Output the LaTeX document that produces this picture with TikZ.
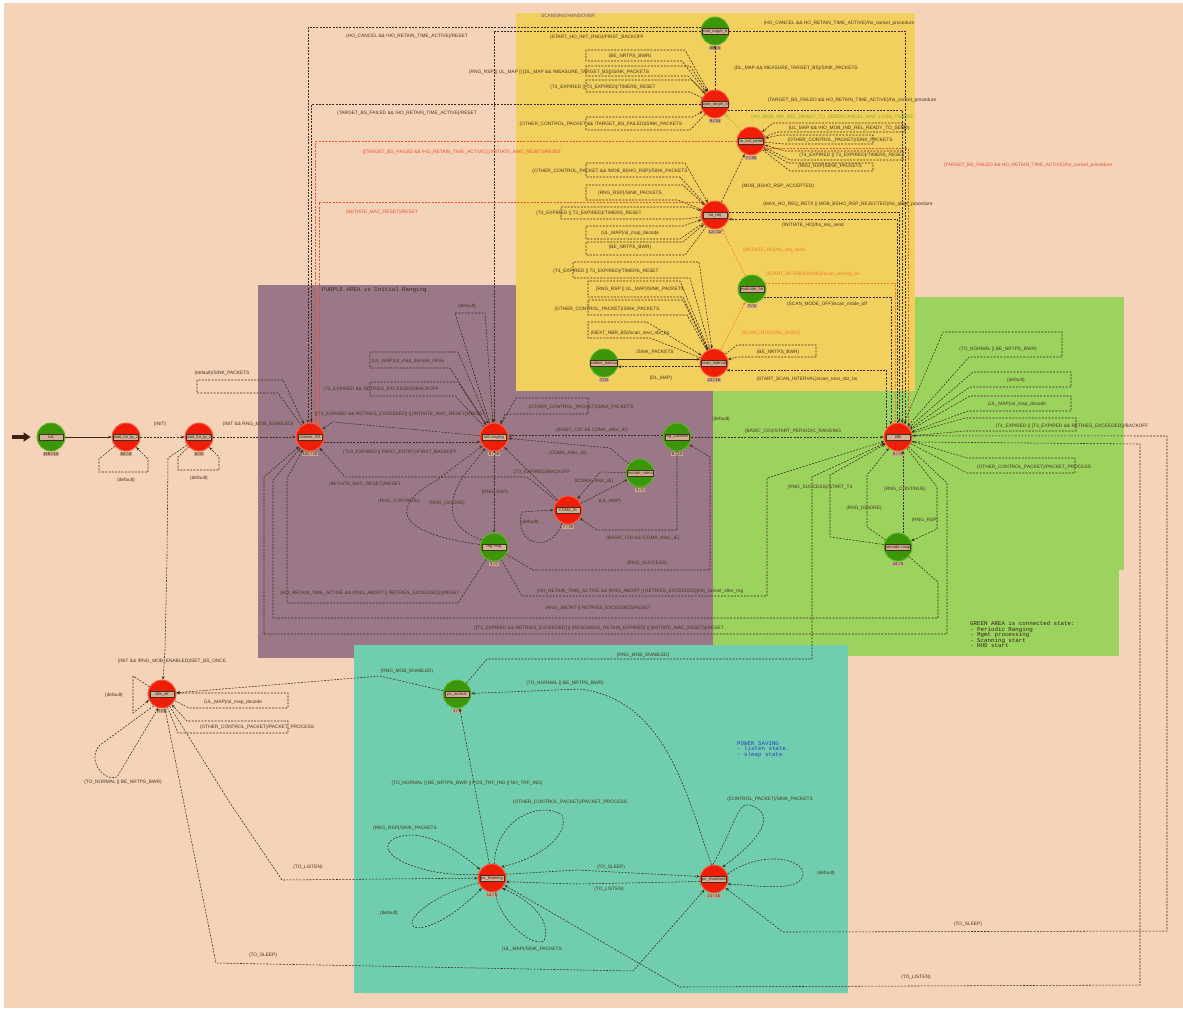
\documentclass[tikz,border=0pt]{standalone}
\usepackage{fontspec}
\setmainfont{Liberation Sans}
\newfontfamily\monof{Liberation Mono}
\usetikzlibrary{arrows.meta}
\definecolor{bgp}{RGB}{244,211,184}
\definecolor{yelc}{RGB}{242,208,94}
\definecolor{purc}{RGB}{155,120,136}
\definecolor{grnar}{RGB}{156,211,94}
\definecolor{tealc}{RGB}{112,206,174}
\definecolor{stred}{RGB}{240,30,8}
\definecolor{stredl}{RGB}{255,95,60}
\definecolor{stgrn}{RGB}{60,150,10}
\definecolor{stgrnl}{RGB}{95,185,35}
\definecolor{boxc}{RGB}{208,176,150}
\definecolor{boxd}{RGB}{70,45,30}
\definecolor{cntc}{RGB}{202,166,140}
\definecolor{edgec}{RGB}{62,42,28}
\definecolor{txtc}{RGB}{75,52,35}
\definecolor{redc}{RGB}{238,78,48}
\definecolor{orgc}{RGB}{245,118,40}
\definecolor{grnc}{RGB}{150,200,40}
\definecolor{arrc}{RGB}{62,30,12}
\definecolor{bluec}{RGB}{50,60,200}
\definecolor{scanc}{RGB}{100,70,160}
\newcommand\lblf{\fontsize{4.8}{5}\selectfont}
\newcommand\stf{\fontsize{4.1}{4.5}\selectfont}
\newcommand\mkst[6]{%
  \node[#4] (#1) at (#2,#3) {};
  \node[sbox] (#1-l) at (#1.center) {#5};
  \node[cbox] (#1-c) at ([yshift=-17pt]#1.center) {#6};
}
\newcommand\lb[4][]{\node[lab,#1] (#2) at (#3) {#4};}
\begin{document}
\begin{tikzpicture}[x=1pt,y=-1pt,
  stbase/.style={circle, minimum size=28pt, inner sep=0pt, line width=0.9pt},
  rst/.style={stbase, fill=stred, draw=stredl},
  gst/.style={stbase, fill=stgrn, draw=stgrnl},
  sbox/.style={rectangle, minimum width=24pt, minimum height=6.5pt, inner sep=0.3pt, fill=boxc, draw=boxd, line width=0.35pt, font=\stf, text=txtc!70!black},
  cbox/.style={rectangle, inner sep=0.8pt, fill=cntc, font=\stf, text=txtc!70!black},
  lab/.style={font=\lblf, text=txtc, inner sep=0pt},
  redt/.style={text=redc},
  orgt/.style={text=orgc},
  grnt/.style={text=grnc!85!black},
  tr/.style={draw=edgec, line width=0.55pt, dash pattern=on 2pt off 1.3pt, -{Stealth[length=3.4pt,width=2.8pt]}},
  rtr/.style={tr, draw=redc},
  otr/.style={tr, draw=orgc},
  gtr/.style={tr, draw=grnc},
  sltr/.style={tr, solid}
]
\useasboundingbox (0,0) rectangle (1183,1010);
\fill[white] (0,0) rectangle (1183,1010);
\fill[bgp] (4,3) rectangle (1183,1008);
\fill[purc] (258,285) rectangle (713,658);
\fill[grnar] (713,297) rectangle (1124,570);
\fill[grnar] (713,570) rectangle (1119,656);
\fill[tealc] (354,645) rectangle (848,993);
\fill[yelc] (516,13) rectangle (915,391);

\node[font=\lblf, text=scanc, inner sep=0pt] (scantitle) at (568,16) {SCANNING/HANDOVER};
\node[font=\monof\fontsize{5.8}{5.6}\selectfont, text=edgec, anchor=north west, inner sep=0pt] (purtitle) at (322,287) {PURPLE AREA is Initial Ranging};
\node[font=\monof\fontsize{5.8}{5.6}\selectfont, text=edgec!80!black, anchor=north west, align=left, inner sep=0pt] (grntitle) at (970,621) {GREEN AREA is connected state:\\- Periodic Ranging\\- Mgmt processing\\- Scanning start\\- HHO start};
\node[font=\monof\fontsize{5.8}{5.6}\selectfont, text=bluec, anchor=north west, align=left, inner sep=0pt] (pstitle) at (737,741) {POWER SAVING\\- listen state.\\- sleep state.};

% states
\mkst{init}{51}{437}{gst}{init}{118 / 13}
\mkst{w1}{126}{437}{rst}{wait\_for\_ip\_1}{52 / 0}
\mkst{w2}{199}{437}{rst}{wait\_for\_ip\_2}{5 / 0}
\mkst{cbs}{310}{437}{rst}{choose\_BS}{102 / 10}
\mkst{ir}{494}{437}{rst}{init ranging}{9 / 39}
\mkst{rs}{677}{437}{gst}{rng\_success}{8 / 19}
\mkst{dc}{640}{473}{gst}{decode\_cdma}{3 / 0}
\mkst{ci}{568}{510}{rst}{CDMA\_IE}{7 / 35}
\mkst{rm}{494}{547}{gst}{rng msg}{3 / 0}
\mkst{idle}{898}{437}{rst}{idle}{9 / 72}
\mkst{pr}{898}{547}{gst}{periodic rangi}{24 / 0}
\mkst{ia}{162}{694}{rst}{idle\_alt}{7 / 8}
\mkst{psn}{457}{694}{gst}{ps\_normal}{1 / 3}
\mkst{psl}{492}{878}{rst}{ps\_listening}{14 / 8}
\mkst{pss}{714}{879}{rst}{ps\_shutdown}{21 / 16}
\mkst{etb}{715}{31}{gst}{eval\_target\_b}{55 / 0}
\mkst{stb}{715}{104}{rst}{scan\_target\_b}{9 / 14}
\mkst{hip}{751}{141}{rst}{ho\_ind\_pendi}{7 / 20}
\mkst{hr}{715}{215}{rst}{ho\_req}{12 / 22}
\mkst{eho}{752}{289}{gst}{evaluate\_ho}{7 / 0}
\mkst{si}{714}{363}{rst}{scan\_interval}{12 / 16}
\mkst{cm}{604}{363}{gst}{collect\_measu}{7 / 0}

% start arrow
\coordinate (start) at (12,437);
\draw[line width=3.5pt, draw=arrc, -{Triangle[length=7pt,width=9pt]}, shorten >=6pt] (start) -- (init);

% left chain
\draw[sltr] (init) -- (w1);
\draw[tr] (w1) -- (99,459) -- (99,472) -- (148,472) -- (148,459) -- (w1);
\draw[tr] (w1) -- (w2);
\draw[tr] (w2) -- (178,457) -- (178,470) -- (219,470) -- (219,457) -- (w2);
\draw[tr] (w2) -- (cbs);
\draw[tr] (w2) -- (168,458) -- (167,557) -- (165,650) -- (ia);
\draw[tr] (cbs) -- (278,393) -- (197,393) -- (197,380) -- (283,380) -- (cbs);

% into choose_BS from the top
\draw[tr] (etb.165) -| (cbs.98);
\draw[tr] (stb.183) -| (cbs.85);
\draw[rtr] (hip.183) -| (cbs.68);
\draw[rtr] (hr.121) -| (cbs.52);
\draw[tr] (etb.180) -| (ir.90);

% scanning / handover
\draw[tr] (stb) -- (etb);
\draw[tr] (stb) -- (682,61) -- (586,61) -- (586,50) -- (685,50) -- (stb);
\draw[tr] (stb) -- (688,76) -- (586,76) -- (586,66) -- (690,66) -- (stb);
\draw[tr] (stb) -- (690,92) -- (586,92) -- (586,80) -- (692,80) -- (stb);
\draw[tr] (stb) -- (690,130) -- (586,130) -- (586,117) -- (693,117) -- (stb);
\draw[gtr] (hip) -- (stb);
\draw[tr] (hip) -- (778,132) -- (905,132) -- (905,123) -- (773,123) -- (hip);
\draw[tr] (hip) -- (785,144) -- (873,144) -- (873,135) -- (780,135) -- (hip);
\draw[tr] (hip) -- (790,160) -- (903,160) -- (903,151) -- (785,151) -- (hip);
\draw[tr] (hip) -- (790,171) -- (873,171) -- (873,163) -- (788,163) -- (hip);
\draw[rtr] (hip.330) -| (idle.44);
\draw[tr] (stb.335) -| (idle.73);
\draw[tr] (etb.0) -| (idle.60);
\draw[tr] (hr.12) -| (idle.86);
\draw[tr] (idle.94) |- (hr.343);
\draw[tr] (hr) -- (hip);
\draw[otr] (eho) -- (hr);
\draw[otr] (si) -- (eho);
\draw[otr] (eho.25) -| (idle.102);
\draw[tr] (eho.325) -| (idle.120);
\draw[tr] (idle.142) |- (si.330);
\draw[tr] (hr) -- (680,177) -- (586,177) -- (586,163) -- (685,163) -- (hr);
\draw[tr] (hr) -- (678,200) -- (586,200) -- (586,185) -- (683,185) -- (hr);
\draw[tr] (hr) -- (685,219) -- (561,219) -- (561,207) -- (690,207) -- (hr);
\draw[tr] (hr) -- (680,239) -- (586,239) -- (586,226) -- (683,226) -- (hr);
\draw[tr] (hr) -- (685,255) -- (586,255) -- (586,242) -- (683,242) -- (hr);
\draw[tr] (si) -- (690,278) -- (573,278) -- (573,262) -- (699,262) -- (si);
\draw[tr] (si) -- (683,297) -- (588,297) -- (588,281) -- (680,281) -- (si);
\draw[tr] (si) -- (687,315) -- (588,315) -- (588,300) -- (683,300) -- (si);
\draw[tr] (si) -- (650,338) -- (588,338) -- (588,322) -- (647,322) -- (si);
\draw[tr] (si) -- (737,345) -- (816,345) -- (816,357) -- (737,357) -- (si);
\draw[sltr] (cm.15) -- (si.165);
\draw[tr] (si.195) -- (cm.345);

% initial ranging
\draw[tr] (ir) -- (450,368) -- (370,368) -- (370,352) -- (458,352) -- (ir);
\draw[tr] (ir) -- (455,396) -- (370,396) -- (370,382) -- (458,382) -- (ir);
\draw[tr] (ir) -- (333,422) -- (cbs);
\draw[tr] (cbs.340) -- (ir.200);
\draw[tr] (ci) -- (527,477) -- (345,477) -- (cbs);
\draw[tr] (ci) -- (ir);
\draw[tr] (dc) -- (610,448) -- (ir);
\draw[tr] (ci.245) .. controls (552,555) and (512,545) .. (522,512) -- (ci.180);
\draw[tr] (ci) -- (dc);
\draw[tr] (dc) -- (600,472) -- (ci);
\draw[tr] (ir) -- (rm);
\draw[tr] (rm.170) .. controls (390,532) and (392,505) .. (437,480) -- (ir);
\draw[tr] (rm.150) .. controls (448,528) and (446,505) .. (462,478) -- (ir);
\draw[tr] (ir) -- (516,398) -- (588,398) -- (588,414) -- (505,414) -- (ir);
\draw[tr] (ir) -- (455,313) -- (485,313) -- (ir);
\draw[tr] (rs) -- (677,530) -- (597,530) -- (ci);
\draw[tr] (rm) -- (533,570) -- (710,570) -- (710,457) -- (rs);
\draw[tr] (rs.175) -- (ir.5);
\draw[tr] (rs) -- (idle);
\draw[tr] (rm) -- (458,603) -- (287,603) -- (287,478) -- (cbs);
\draw[tr] (rm) -- (522,596) -- (767,596) -- (767,478) -- (idle);
\draw[tr] (pr) -- (938,582) -- (938,618) -- (273,618) -- (273,480) -- (cbs);
\draw[tr] (idle) -- (947,483) -- (947,634) -- (264,634) -- (264,477) -- (cbs);

% connected state
\draw[tr] (pr.170) -- (830,537) -- (830,475) -- (idle);
\draw[tr] (pr.150) -- (867,527) -- (867,475) -- (idle);
\draw[tr] (pr.70) -- (idle.290);
\draw[tr] (idle) -- (937,487) -- (937,529) -- (pr);
\draw[tr] (psn) -- (487,659) -- (812,659) -- (812,477) -- (idle);
\draw[tr] (idle) -- (943,332) -- (1062,332) -- (1062,357) -- (969,357) -- (idle);
\draw[tr] (idle) -- (973,372) -- (1071,372) -- (1071,387) -- (970,387) -- (idle);
\draw[tr] (idle) -- (970,396) -- (1071,396) -- (1071,411) -- (968,411) -- (idle);
\draw[tr] (idle) -- (965,418) -- (1076,418) -- (1076,431) -- (965,431) -- (idle);
\draw[tr] (idle) -- (967,473) -- (1075,473) -- (1075,458) -- (967,458) -- (idle);
\draw[tr] (idle.340) -- (1140,444) -- (1140,985) -- (680,987) -- (psl);
\draw[tr] (idle.5) -- (1167,436) -- (1167,931) -- (783,932) -- (pss);

% idle_alt
\draw[tr] (ia.150) -- (133,676) -- (133,713) -- (ia.205);
\draw[tr] (ia.235) -- (100,745) .. controls (86,760) and (104,782) .. (117,777) -- (ia.255);
\draw[tr] (ia) -- (189,708) -- (288,708) -- (288,693) -- (178,693) -- (ia);
\draw[tr] (ia) -- (178,733) -- (288,733) -- (288,721) -- (187,721) -- (ia);
\draw[tr] (psn) -- (380,676) -- (ia);
\draw[tr] (ia) -- (230,803) -- (282,880) -- (psl);
\draw[tr] (ia) -- (216,963) -- (633,971) -- (pss);

% power saving
\draw[tr] (psl) -- (psn);
\draw[tr] (pss.100) .. controls (685,790) and (665,700) .. (580,689) -- (psn);
\draw[tr] (psl.165) .. controls (420,878) and (368,852) .. (395,838) .. controls (420,828) and (452,845) .. (psl.145);
\draw[tr] (psl.80) .. controls (495,820) and (540,800) .. (562,815) .. controls (570,835) and (540,858) .. (psl.50);
\draw[tr] (psl.200) .. controls (430,895) and (398,925) .. (418,928) .. controls (440,926) and (465,905) .. (psl.225);
\draw[tr] (psl.285) .. controls (496,915) and (530,948) .. (544,941) .. controls (552,920) and (530,900) .. (psl.315);
\draw[tr] (psl.15) -- (577,870) -- (pss.170);
\draw[tr] (pss.190) -- (577,884) -- (psl.345);
\draw[tr] (pss.95) .. controls (733,830) and (738,800) .. (750,805) .. controls (777,814) and (762,838) .. (pss.55);
\draw[tr] (pss.20) .. controls (760,850) and (805,858) .. (803,875) .. controls (800,892) and (760,886) .. (pss.340);

% labels
\lb{L1}{160,424}{(INIT)}
\lb{L2}{126,480}{(default)}
\lb{L3}{199,478}{(default)}
\lb{L4}{258,424}{(INIT \&\& RNG\_MOB\_ENABLED)}
\lb{L5}{172,661}{(INIT \&\& !RNG\_MOB\_ENABLED)/SET\_BS\_ONCE}
\lb{L6}{222,373}{(default)/SINK\_PACKETS}
\lb{L7}{407,36}{(HO\_CANCEL \&\& !HO\_RETAIN\_TIME\_ACTIVE)/RESET}
\lb{L8}{407,113}{(TARGET\_BS\_FAILED \&\& !HO\_RETAIN\_TIME\_ACTIVE)/RESET}
\lb[redt]{L9}{462,152}{([TARGET\_BS\_FAILED \&\& !HO\_RETAIN\_TIME\_ACTIVE] || INITIATE\_MAC\_RESET)/RESET}
\lb[redt]{L10}{382,212}{(INITIATE\_MAC\_RESET)/RESET}
\lb{L11}{597,37}{(START\_HO\_INIT\_RNG)/FIRST\_BACKOFF}
\lb{L12}{796,68}{(DL\_MAP \&\& MEASURE\_TARGET\_BS)/SINK\_PACKETS}
\lb{L13}{630,56}{(BE\_NRTPS\_BWR)}
\lb{L14}{559,72}{(RNG\_RSP || UL\_MAP || [DL\_MAP \&\& !MEASURE\_TARGET\_BS])/SINK\_PACKETS}
\lb{L15}{603,87}{(T4\_EXPIRED || T3\_EXPIRED)/TIMERS\_RESET}
\lb{L16}{601,124}{(OTHER\_CONTROL\_PACKET \&\& !TARGET\_BS\_FAILED)/SINK\_PACKETS}
\lb[grnt]{L17}{832,117}{(HO\_MOB\_IND\_REL\_READY\_TO\_SEND)/CANCEL\_MAP\_LOSS\_TIMERS}
\lb{L18}{849,128}{(UL\_MAP \&\& !HO\_MOB\_IND\_REL\_READY\_TO\_SEND)}
\lb{L19}{840,140}{(OTHER\_CONTROL\_PACKET)/SINK\_PACKETS}
\lb{L20}{852,155}{(T4\_EXPIRED || T3\_EXPIRED)/TIMERS\_RESET}
\lb{L21}{830,166}{(RNG\_RSP)/SINK\_PACKETS}
\lb[redt]{L22}{1028,165}{(TARGET\_BS\_FAILED \&\& HO\_RETAIN\_TIME\_ACTIVE)/ho\_cancel\_procedure}
\lb{L23}{852,100}{(TARGET\_BS\_FAILED \&\& HO\_RETAIN\_TIME\_ACTIVE)/ho\_cancel\_procedure}
\lb{L24}{839,23}{(HO\_CANCEL \&\& HO\_RETAIN\_TIME\_ACTIVE)/ho\_cancel\_procedure}
\lb{L25}{848,204}{(MAX\_HO\_REQ\_RETX || MOB\_BSHO\_RSP\_REJECTED)/ho\_abort\_procedure}
\lb{L26}{813,225}{(INITIATE\_HO)/ho\_req\_send}
\lb{L27}{778,186}{(MOB\_BSHO\_RSP\_ACCEPTED)}
\lb[orgt]{L28}{774,250}{(INITIATE\_HO)/ho\_req\_send}
\lb[orgt]{L29}{771,333}{(SCAN\_INTERVAL\_ENDS)}
\lb[orgt]{L30}{813,274}{(START\_INTERLEAVING)/scan\_serving\_bs}
\lb{L31}{827,304}{(SCAN\_MODE\_OFF)/scan\_mode\_off}
\lb{L32}{807,379}{(START\_SCAN\_INTERVAL)/scan\_next\_nbr\_bs}
\lb{L33}{610,171}{(OTHER\_CONTROL\_PACKET \&\& !MOB\_BSHO\_RSP)/SINK\_PACKETS}
\lb{L34}{630,193}{(RNG\_RSP)/SINK\_PACKETS}
\lb{L35}{589,213}{(T4\_EXPIRED || T3\_EXPIRED)/TIMERS\_RESET}
\lb{L36}{630,233}{(UL\_MAP)/ul\_map\_decode}
\lb{L37}{630,247}{(BE\_NRTPS\_BWR)}
\lb{L38}{606,271}{(T4\_EXPIRED || T3\_EXPIRED)/TIMERS\_RESET}
\lb{L39}{640,289}{(RNG\_RSP || UL\_MAP)/SINK\_PACKETS}
\lb{L40}{607,309}{(OTHER\_CONTROL\_PACKET)/SINK\_PACKETS}
\lb{L41}{630,333}{(NEXT\_NBR\_BS)/scan\_next\_nbr\_bs}
\lb{L42}{778,352}{(BE\_NRTPS\_BWR)}
\lb{L43}{655,352}{/SINK\_PACKETS}
\lb{L44}{661,378}{(DL\_MAP)}
\lb{L45}{408,361}{(UL\_MAP)/ul\_map\_decode\_cdma}
\lb{L46}{381,389}{(T3\_EXPIRED \&\& RETRIES\_EXCEEDED)/BACKOFF}
\lb{L47}{400,414}{([T3\_EXPIRED \&\& RETRIES\_EXCEEDED] || [INITIATE\_MAC\_RESET])/RESET}
\lb{L48}{400,452}{(T19\_EXPIRED || FIRST\_ENTRY)/FIRST\_BACKOFF}
\lb{L49}{365,484}{(INITIATE\_MAC\_RESET)/RESET}
\lb{L50}{542,472}{(T3\_EXPIRED)/BACKOFF}
\lb{L51}{568,453}{(CDMA\_Alloc\_IE)}
\lb{L52}{530,522}{(default)}
\lb{L53}{610,501}{(UL\_MAP)}
\lb{L54}{594,481}{(!CDMA\_Alloc\_IE)}
\lb{L55}{495,492}{(RNG\_RSP)}
\lb{L56}{399,501}{(RNG\_CONTINUE)}
\lb{L57}{447,503}{(RNG\_IGNORE)}
\lb{L58}{581,407}{(OTHER\_CONTROL\_PACKET)/SINK\_PACKETS}
\lb{L59}{467,306}{(default)}
\lb{L60}{643,538}{(BASIC\_CID \&\& !CDMA\_Alloc\_IE)}
\lb{L61}{647,563}{(RNG\_SUCCESS)}
\lb{L62}{592,430}{(BASIC\_CID \&\& CDMA\_Alloc\_IE)}
\lb{L63}{793,431}{(BASIC\_CID)/START\_PERIODIC\_RANGING}
\lb{L64}{721,419}{(default)}
\lb{L65}{370,593}{(HO\_RETAIN\_TIME\_ACTIVE \&\& (RNG\_ABORT || RETRIES\_EXCEEDED))/RESET}
\lb{L66}{640,591}{(HO\_RETAIN\_TIME\_ACTIVE \&\& (RNG\_ABORT || RETRIES\_EXCEEDED))/ho\_cancel\_after\_rng}
\lb{L67}{598,608}{(RNG\_ABORT || RETRIES\_EXCEEDED)/RESET}
\lb{L68}{599,628}{([T3\_EXPIRED \&\& RETRIES\_EXCEEDED] || [RESOURCE\_RETAIN\_EXPIRED] || [INITIATE\_MAC\_RESET])/RESET}
\lb{L69}{820,487}{(RNG\_SUCCESS)/START\_T4}
\lb{L70}{864,508}{(RNG\_IGNORE)}
\lb{L71}{905,489}{(RNG\_CONTINUE)}
\lb{L72}{925,520}{(RNG\_RSP)}
\lb{L73}{998,349}{(TO\_NORMAL || BE\_NRTPS\_BWR)}
\lb{L74}{1016,380}{(default)}
\lb{L75}{1017,404}{(UL\_MAP)/ul\_map\_decode}
\lb{L76}{1072,426}{(T4\_EXPIRED || [T3\_EXPIRED \&\& RETRIES\_EXCEEDED])/BACKOFF}
\lb{L77}{1034,467}{(OTHER\_CONTROL\_PACKET)/PACKET\_PROCESS}
\lb{L78}{968,924}{(TO\_SLEEP)}
\lb{L79}{916,977}{(TO\_LISTEN)}
\lb{L80}{643,655}{(RNG\_MOB\_ENABLED)}
\lb{L81}{114,695}{(default)}
\lb{L82}{123,782}{(TO\_NORMAL || BE\_NRTPS\_BWR)}
\lb{L83}{233,702}{(UL\_MAP)/ul\_map\_decode}
\lb{L84}{257,727}{(OTHER\_CONTROL\_PACKET)/PACKET\_PROCESS}
\lb{L85}{407,671}{(RNG\_MOB\_ENABLED)}
\lb{L86}{308,867}{(TO\_LISTEN)}
\lb{L87}{263,955}{(TO\_SLEEP)}
\lb{L88}{467,783}{(TO\_NORMAL || BE\_NRTPS\_BWR || POS\_TRF\_IND || NO\_TRF\_IND)}
\lb{L89}{565,683}{(TO\_NORMAL || BE\_NRTPS\_BWR)}
\lb{L90}{405,828}{(RNG\_RSP)/SINK\_PACKETS}
\lb{L91}{570,802}{(OTHER\_CONTROL\_PACKET)/PACKET\_PROCESS}
\lb{L92}{389,913}{(default)}
\lb{L93}{532,949}{(UL\_MAP)/SINK\_PACKETS}
\lb{L94}{611,867}{(TO\_SLEEP)}
\lb{L95}{609,889}{(TO\_LISTEN)}
\lb{L96}{770,799}{(CONTROL\_PACKET)/SINK\_PACKETS}
\lb{L97}{826,873}{(default)}
\end{tikzpicture}
\end{document}
